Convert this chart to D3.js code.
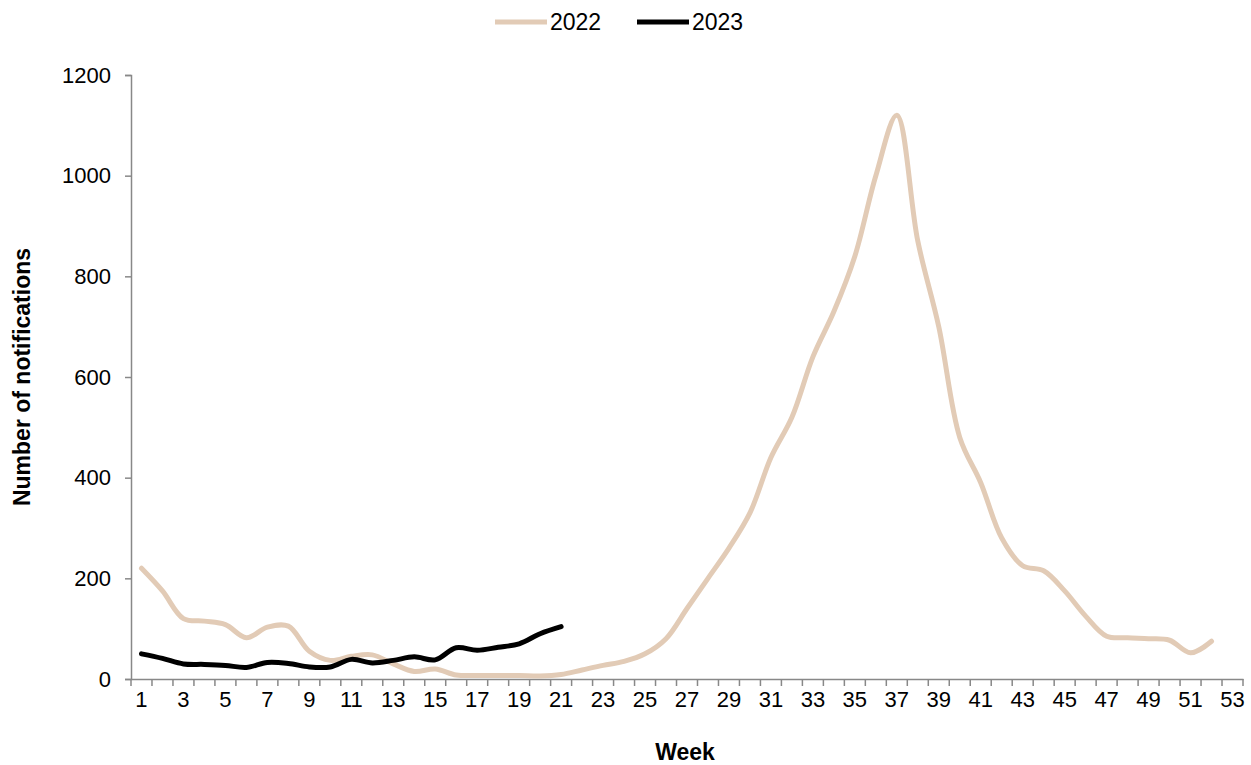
<!DOCTYPE html>
<html><head><meta charset="utf-8">
<script src="https://cdn.jsdelivr.net/npm/d3@7"></script>
<style>body{margin:0;background:#fff;font-family:Arial,"Liberation Sans",sans-serif}</style>
</head><body>
<script>
var weeks = d3.range(1, 54);
var tickLabels = d3.range(1, 54, 2);
var s2022 = [220,175,120,115,108,82,103,105,55,37,45,48,30,15,20,8,7,7,7,6,9,18,27,35,50,80,140,200,260,330,440,520,640,730,840,1000,1120,870,700,480,390,280,225,215,175,125,85,82,80,77,52,75];
var s2023 = [50,41,30,29,27,23,33,31,24,24,39,32,37,44,38,62,57,63,70,90,104];
var yTicks = [0,200,400,600,800,1000,1200];

var w = 1251, h = 765;
var mLeft = 131, mRight = 1243, mTop = 75, mBottom = 679;
var svg = d3.select("body").append("svg").attr("width", w).attr("height", h);

var x = d3.scaleBand().domain(weeks).range([mLeft, mRight]);
var y = d3.scaleLinear().domain([0, 1200]).range([mBottom, mTop]);

var yAxis = svg.append("g").attr("transform", "translate(" + mLeft + ",0)")
  .call(d3.axisLeft(y).tickValues(yTicks).tickFormat(d3.format("d")).tickSize(6).tickPadding(14));
yAxis.selectAll("text").style("font-size", "22px").attr("fill", "#000");

var xAxis = svg.append("g").attr("transform", "translate(0," + mBottom + ")")
  .call(d3.axisBottom(x).tickFormat(function(d) { return tickLabels.indexOf(d) >= 0 ? d : ""; }).tickSize(0).tickPadding(12));
xAxis.selectAll("text").style("font-size", "22px").attr("fill", "#000");
// tick marks between categories
svg.append("g").selectAll("line").data(d3.range(54)).enter().append("line")
  .attr("x1", function(i) { return mLeft + i * x.step(); })
  .attr("x2", function(i) { return mLeft + i * x.step(); })
  .attr("y1", mBottom).attr("y2", mBottom + 7)
  .attr("stroke", "#888").attr("stroke-width", 1.5);
svg.selectAll(".domain").attr("stroke", "#888").attr("stroke-width", 1.5);
yAxis.selectAll(".tick line").attr("stroke", "#888").attr("stroke-width", 1.5);

var line = d3.line()
  .x(function(d, i) { return x(i + 1) + x.bandwidth() / 2; })
  .y(function(d) { return y(d); })
  .curve(d3.curveCatmullRom);

svg.append("path").datum(s2022).attr("d", line).attr("fill", "none")
  .attr("stroke", "#e2cbb6").attr("stroke-width", 5).attr("stroke-linecap", "round");
svg.append("path").datum(s2023).attr("d", line).attr("fill", "none")
  .attr("stroke", "#000").attr("stroke-width", 5).attr("stroke-linecap", "round");

svg.append("text").attr("x", 685).attr("y", 760).attr("text-anchor", "middle")
  .style("font-size", "23px").style("font-weight", "bold").text("Week");
svg.append("text").attr("transform", "translate(30,377) rotate(-90)").attr("text-anchor", "middle")
  .style("font-size", "23px").style("font-weight", "bold").text("Number of notifications");

var legend = [["2022", "#e2cbb6", 495], ["2023", "#000", 637]];
legend.forEach(function(l) {
  svg.append("line").attr("x1", l[2]).attr("x2", l[2] + 52).attr("y1", 22).attr("y2", 22)
    .attr("stroke", l[1]).attr("stroke-width", 5);
  svg.append("text").attr("x", l[2] + 55).attr("y", 30).style("font-size", "23px").text(l[0]);
});
</script>
</body></html>
